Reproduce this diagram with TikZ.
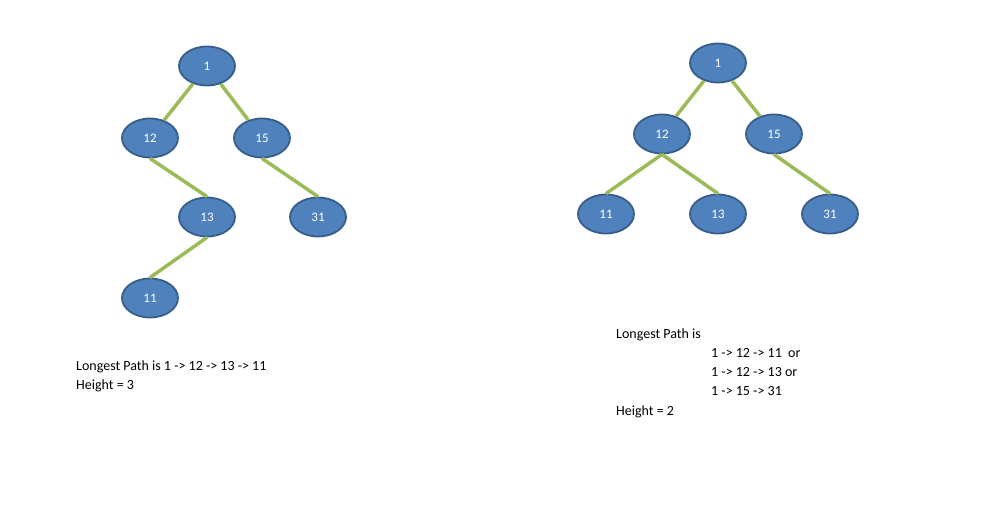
\documentclass[tikz,border=0pt]{standalone}
\usepackage{fontspec}
\setmainfont{Carlito}
\usetikzlibrary{shapes.geometric}
\definecolor{nodefill}{RGB}{79,129,189}
\definecolor{nodeline}{RGB}{56,93,138}
\definecolor{edgegreen}{RGB}{155,187,89}
\begin{document}
\begin{tikzpicture}
      [x=1pt,y=-1pt,
      vertex/.style={ellipse,draw=nodeline,line width=1.8pt,fill=nodefill,text=white,inner sep=0pt,minimum width=56pt,minimum height=39pt,font=\fontsize{13}{15}\selectfont},
      branch/.style={edgegreen,line width=3.5pt},
      caption/.style={anchor=base west,inner sep=0pt,font=\fontsize{14}{17}\selectfont}
      ]
      \useasboundingbox (0,0) rectangle (991,517);
      % left tree
      \node (a1) at (207,66) [vertex] {1};
      \node (a12) at (150,138) [vertex] {12};
      \node (a15) at (262,138) [vertex] {15};
      \node (a13) at (207,217) [vertex] {13};
      \node (a31) at (318,217) [vertex] {31};
      \node (a11) at (150,298) [vertex] {11};
      \draw [branch] (a1) to (a12);
      \draw [branch] (a1) to (a15);
      \draw [branch] (a12.south) to (a13.north);
      \draw [branch] (a15.south) to (a31.north);
      \draw [branch] (a13.south) to (a11.north);
      \node (lpath) at (76,370) [caption] {Longest Path is 1 -> 12 -> 13 -> 11};
      \node (lheight) at (76,389) [caption] {Height = 3};
      % right tree
      \node (b1) at (718,63) [vertex] {1};
      \node (b12) at (662,134) [vertex] {12};
      \node (b15) at (774,134) [vertex] {15};
      \node (b11) at (606,214) [vertex] {11};
      \node (b13) at (718,214) [vertex] {13};
      \node (b31) at (830,214) [vertex] {31};
      \draw [branch] (b1) to (b12);
      \draw [branch] (b1) to (b15);
      \draw [branch] (b12.south) to (b11.north);
      \draw [branch] (b12.south) to (b13.north);
      \draw [branch] (b15.south) to (b31.north);
      \node (rpath) at (616,338) [caption] {Longest Path is};
      \node (rline1) at (711,357) [caption] {1 -> 12 -> 11\ \ or};
      \node (rline2) at (711,376) [caption] {1 -> 12 -> 13 or};
      \node (rline3) at (711,395) [caption] {1 -> 15 -> 31};
      \node (rheight) at (616,415) [caption] {Height = 2};
\end{tikzpicture}
\end{document}
